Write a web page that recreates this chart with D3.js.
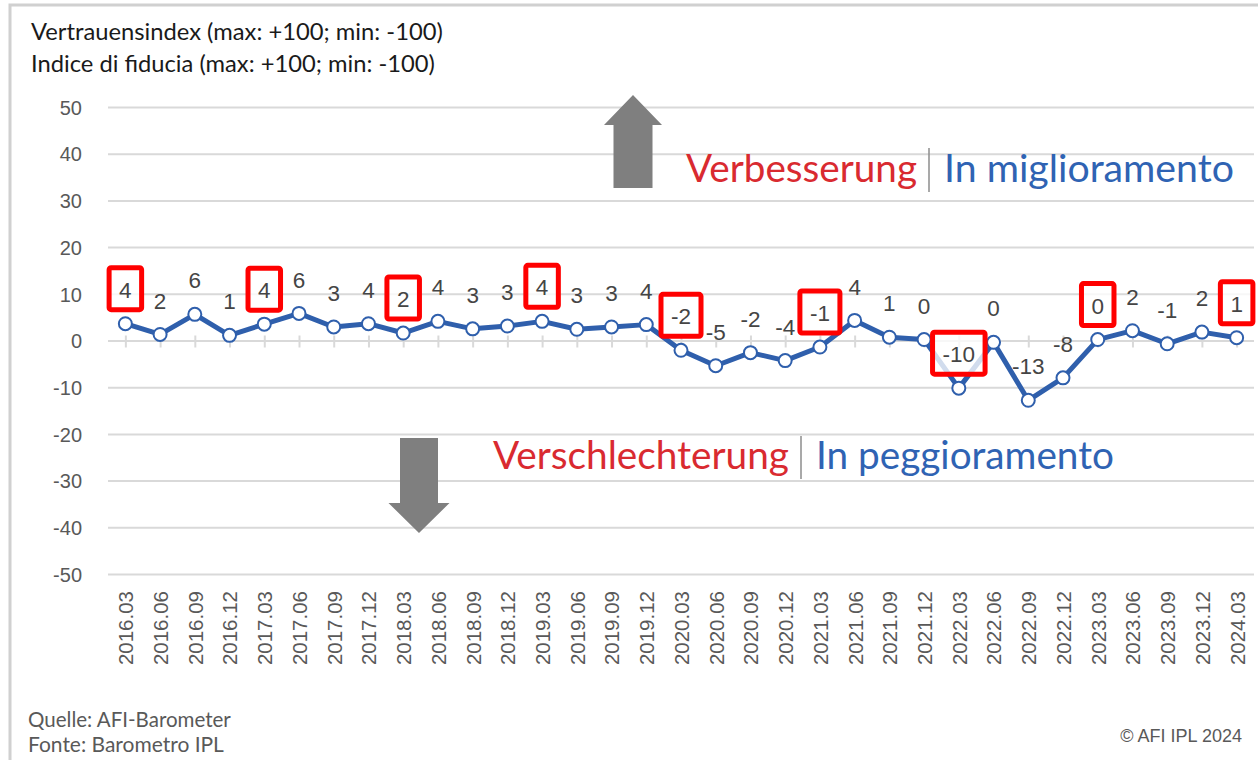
<!DOCTYPE html>
<html>
<head>
<meta charset="utf-8">
<script src="https://cdn.jsdelivr.net/npm/d3@7"></script>
<style>
  html, body { margin: 0; padding: 0; background: #fff; }
  svg { display: block; }
</style>
</head>
<body>
<svg id="chart" width="1258" height="760"></svg>
<script>
// ---------------- DATA ----------------
const categories = [
  "2016.03","2016.06","2016.09","2016.12",
  "2017.03","2017.06","2017.09","2017.12",
  "2018.03","2018.06","2018.09","2018.12",
  "2019.03","2019.06","2019.09","2019.12",
  "2020.03","2020.06","2020.09","2020.12",
  "2021.03","2021.06","2021.09","2021.12",
  "2022.03","2022.06","2022.09","2022.12",
  "2023.03","2023.06","2023.09","2023.12",
  "2024.03"
];
const values = [
  3.6, 1.3, 5.6, 1.1,
  3.5, 5.8, 2.9, 3.6,
  1.6, 4.1, 2.5, 3.1,
  4.1, 2.4, 2.9, 3.4,
  -2.1, -5.4, -2.6, -4.3,
  -1.4, 4.3, 0.7, 0.2,
  -10.2, -0.4, -12.8, -8.0,
  0.2, 2.1, -0.7, 1.8,
  0.6
];
const valueLabels = [
  "4","2","6","1",
  "4","6","3","4",
  "2","4","3","3",
  "4","3","3","4",
  "-2","-5","-2","-4",
  "-1","4","1","0",
  "-10","0","-13","-8",
  "0","2","-1","2",
  "1"
];
const highlighted = ["2016.03","2017.03","2018.03","2019.03","2020.03","2021.03","2022.03","2023.03","2024.03"];
const yTicks = [50, 40, 30, 20, 10, 0, -10, -20, -30, -40, -50];
const yDomain = [-50, 50];
const titleLines = ["Vertrauensindex (max: +100; min: -100)", "Indice di fiducia (max: +100; min: -100)"];
const upText = ["Verbesserung", "In miglioramento"];
const downText = ["Verschlechterung", "In peggioramento"];
const sourceLines = ["Quelle: AFI-Barometer", "Fonte: Barometro IPL"];
const copyright = "© AFI IPL 2024";

// ---------------- LAYOUT ----------------
const svg = d3.select("#chart");
const plot = { left: 108, right: 1254, top: 107, bottom: 574 };
const x = d3.scalePoint().domain(categories).range([plot.left, plot.right]).padding(0.5);
const y = d3.scaleLinear().domain(yDomain).range([plot.bottom, plot.top]);

const COL_BLUE = "#2f5fac";
const COL_RED_TXT = "#d92a30";
const COL_BLUE_TXT = "#2f63b3";
const COL_GRID = "#d9d9d9";
const COL_AXIS_TXT = "#595959";
const FONT_NUM = "'Liberation Sans', Arial, sans-serif";
const FONT_TXT = "Lato, 'Open Sans', sans-serif";

function fitWidth(sel, target) {
  const node = sel.node();
  const w = node.getComputedTextLength();
  const fs = parseFloat(sel.attr("font-size"));
  sel.attr("font-size", (fs * target / w).toFixed(2));
}

// frame
svg.append("path")
  .attr("d", "M10,760 L10,5 L1258,5")
  .attr("fill", "none").attr("stroke", "#d0d0d0").attr("stroke-width", 3);

// title
titleLines.forEach((t, i) => {
  const tt = svg.append("text")
    .attr("x", 31).attr("y", 40 + i * 32)
    .attr("font-family", FONT_TXT).attr("font-size", 20)
    .attr("fill", "#1a1a1a").text(t);
  fitWidth(tt, i === 0 ? 412 : 404);
});

// gridlines
const yAxis = d3.axisLeft(y).tickValues(yTicks).tickFormat(d => String(d))
  .tickSize(-(plot.right - plot.left)).tickPadding(26);
const gy = svg.append("g").attr("transform", `translate(${plot.left},0)`).call(yAxis);
gy.select(".domain").remove();
gy.selectAll(".tick line").attr("stroke", COL_GRID).attr("stroke-width", 2);
gy.selectAll(".tick text")
  .attr("font-family", FONT_NUM).attr("font-size", 20).attr("fill", COL_AXIS_TXT)
  .attr("dy", "0.36em");

// x axis at zero with tick marks crossing, labels at bottom
const xTicksG = svg.append("g").attr("transform", `translate(0,${y(0)})`)
  .call(d3.axisBottom(x).tickSize(7).tickFormat(""));
xTicksG.select(".domain").remove();
xTicksG.selectAll(".tick line").attr("stroke", COL_GRID).attr("stroke-width", 2).attr("y1", -5);

const xLabG = svg.append("g").attr("transform", `translate(0,${plot.bottom + 17})`)
  .call(d3.axisBottom(x).tickSize(0).tickPadding(0));
xLabG.select(".domain").remove();
xLabG.selectAll(".tick text")
  .attr("font-family", FONT_NUM).attr("font-size", 20.5).attr("fill", COL_AXIS_TXT)
  .attr("transform", "rotate(-90)")
  .attr("text-anchor", "end")
  .attr("x", 0).attr("y", 0).attr("dy", "0.36em");

// arrows
const up = { cx: 633, tipY: 95, headY: 125, baseY: 188, headHalf: 29, shaftHalf: 19.5 };
svg.append("path")
  .attr("d", `M${up.cx},${up.tipY} L${up.cx + up.headHalf},${up.headY} L${up.cx + up.shaftHalf},${up.headY} L${up.cx + up.shaftHalf},${up.baseY} L${up.cx - up.shaftHalf},${up.baseY} L${up.cx - up.shaftHalf},${up.headY} L${up.cx - up.headHalf},${up.headY} Z`)
  .attr("fill", "#7f7f7f");
const dn = { cx: 419, tipY: 533, headY: 503, topY: 438, headHalf: 30.5, shaftHalf: 19 };
svg.append("path")
  .attr("d", `M${dn.cx},${dn.tipY} L${dn.cx + dn.headHalf},${dn.headY} L${dn.cx + dn.shaftHalf},${dn.headY} L${dn.cx + dn.shaftHalf},${dn.topY} L${dn.cx - dn.shaftHalf},${dn.topY} L${dn.cx - dn.shaftHalf},${dn.headY} L${dn.cx - dn.headHalf},${dn.headY} Z`)
  .attr("fill", "#7f7f7f");

// annotation texts
function annot(words, x0, x1sep, x2, xEnd, base, sepTop, sepBot) {
  const a = svg.append("text").attr("x", x0).attr("y", base)
    .attr("font-family", FONT_TXT).attr("font-size", 34).attr("fill", COL_RED_TXT).text(words[0]);
  fitWidth(a, x1sep - 12 - x0);
  svg.append("line").attr("x1", x1sep).attr("x2", x1sep).attr("y1", sepTop).attr("y2", sepBot)
    .attr("stroke", "#8c8c8c").attr("stroke-width", 1.5);
  const b = svg.append("text").attr("x", x2).attr("y", base)
    .attr("font-family", FONT_TXT).attr("font-size", 34).attr("fill", COL_BLUE_TXT).text(words[1]);
  fitWidth(b, xEnd - x2);
}
annot(upText, 686, 929, 944, 1234, 182, 148, 192);
annot(downText, 493, 801, 816, 1114, 469, 436, 479);

// line
svg.append("path")
  .datum(values)
  .attr("d", d3.line().x((d, i) => x(categories[i])).y(d => y(d)))
  .attr("fill", "none").attr("stroke", COL_BLUE).attr("stroke-width", 5)
  .attr("stroke-linejoin", "round");

// markers
svg.append("g").selectAll("circle")
  .data(values).join("circle")
  .attr("cx", (d, i) => x(categories[i])).attr("cy", d => y(d))
  .attr("r", 6.5).attr("fill", "#fff").attr("stroke", COL_BLUE).attr("stroke-width", 2);

// data labels
const labG = svg.append("g");
values.forEach((v, i) => {
  const cx = x(categories[i]);
  const cy = y(v) - 34;
  const isHi = highlighted.includes(categories[i]);
  const g = labG.append("g");
  const t = g.append("text")
    .attr("x", cx).attr("y", cy).attr("dy", "0.36em")
    .attr("text-anchor", "middle")
    .attr("font-family", FONT_NUM).attr("font-size", 22.5).attr("fill", "#454545")
    .text(valueLabels[i]);
  if (isHi) {
    const w = t.node().getComputedTextLength();
    const bw = w + 20, bh = 42;
    g.insert("rect", "text")
      .attr("x", cx - bw / 2).attr("y", cy - bh / 2 - 1)
      .attr("width", bw).attr("height", bh)
      .attr("rx", 2)
      .attr("fill", "#fff").attr("fill-opacity", 0.78)
      .attr("stroke", "#ff0000").attr("stroke-width", 5);
  }
});

// footer
sourceLines.forEach((t, i) => {
  const s = svg.append("text").attr("x", 28).attr("y", 727 + i * 25)
    .attr("font-family", FONT_TXT).attr("font-size", 18).attr("fill", COL_AXIS_TXT).text(t);
  fitWidth(s, i === 0 ? 203 : 196);
});
const c = svg.append("text").attr("x", 1242).attr("y", 742).attr("text-anchor", "end")
  .attr("font-family", FONT_NUM).attr("font-size", 18).attr("fill", COL_AXIS_TXT).text(copyright);
</script>
</body>
</html>
